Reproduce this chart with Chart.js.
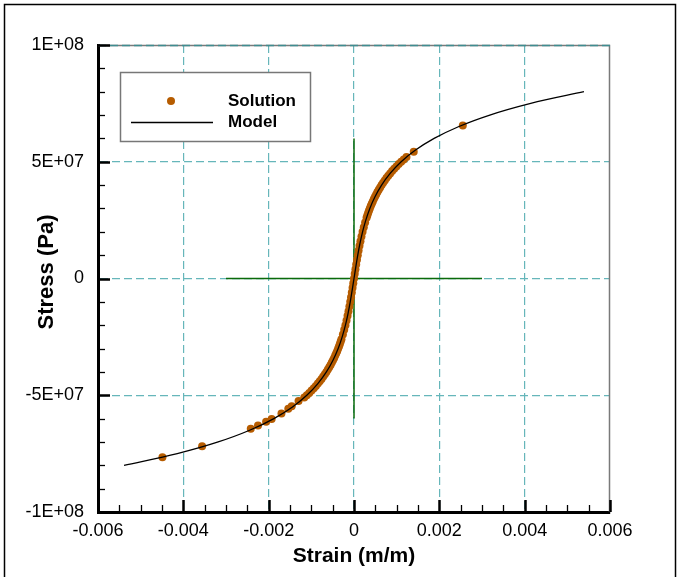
<!DOCTYPE html>
<html>
<head>
<meta charset="utf-8">
<title>Stress - Strain</title>
<script src="https://cdn.jsdelivr.net/npm/chart.js@4.4.1/dist/chart.umd.min.js"></script>
<style>
    body { margin: 0; background: #fff; }
    canvas { display: block; }
</style>
</head>
<body>
<canvas id="miGrafica" width="680" height="577"></canvas>
<script>
// Curva del modelo (deformación vs esfuerzo)
const modelStrain = [
    -0.005390, -0.004142, -0.003183, -0.002446, -0.001878, -0.001442, -0.001106, -0.000847,
    -0.000647, -0.000492, -0.000371, -0.000277, -0.000201, -0.000140, -0.0000882, -0.0000426,
    0,
    0.0000426, 0.0000882, 0.000140, 0.000201, 0.000277, 0.000371, 0.000492, 0.000647,
    0.000847, 0.001106, 0.001442, 0.001878, 0.002446, 0.003183, 0.004142, 0.005390
];
const modelStress = [
    -8.0e7, -7.5e7, -7.0e7, -6.5e7, -6.0e7, -5.5e7, -5.0e7, -4.5e7,
    -4.0e7, -3.5e7, -3.0e7, -2.5e7, -2.0e7, -1.5e7, -1.0e7, -0.5e7,
    0,
    0.5e7, 1.0e7, 1.5e7, 2.0e7, 2.5e7, 3.0e7, 3.5e7, 4.0e7,
    4.5e7, 5.0e7, 5.5e7, 6.0e7, 6.5e7, 7.0e7, 7.5e7, 8.0e7
];

// Puntos de la solución
const solutionStrain = [
    -0.00449, -0.00356, -0.00242, -0.00225, -0.00206, -0.00193, -0.00170, -0.00154, -0.00146, -0.00130,
    -0.001166, -0.001106, -0.0010486, -0.0009942, -0.0009425, -0.0008935, -0.000847, -0.0008027, -0.0007607,
    -0.0007209, -0.000683, -0.000647, -0.0006128, -0.0005803, -0.0005494, -0.0005201, -0.000492, -0.0004655,
    -0.0004403, -0.0004162, -0.0003933, -0.000371, -0.0003507, -0.0003309, -0.000312, -0.000294,
    -0.0002603, -0.0002295, -0.000201, -0.0001753, -0.0001512, -0.0001289, -0.0001079,
    -0.0000882, -0.0000694, -0.0000514, -0.0000339, -0.0000169, 0,
    0.0000169, 0.0000339, 0.0000514, 0.0000694, 0.0000882, 0.0001079, 0.0001289, 0.0001512, 0.0001753, 0.000201,
    0.0002295, 0.0002603, 0.000294, 0.000312, 0.0003309, 0.0003507, 0.000371, 0.0003933, 0.0004162, 0.0004403,
    0.0004655, 0.000492, 0.0005201, 0.0005494, 0.0005803, 0.0006128, 0.000647, 0.000683, 0.0007209, 0.0007607,
    0.0008027, 0.000847, 0.0008935, 0.0009425, 0.0009942, 0.0010486, 0.001106, 0.0011662, 0.00123,
    0.00140, 0.00255
];
const solutionStress = [
    -7.65e7, -7.18e7, -6.44e7, -6.30e7, -6.14e7, -6.02e7, -5.78e7, -5.58e7, -5.47e7, -5.25e7,
    -5.1e7, -5.0e7, -4.9e7, -4.8e7, -4.7e7, -4.6e7, -4.5e7, -4.4e7, -4.3e7,
    -4.2e7, -4.1e7, -4.0e7, -3.9e7, -3.8e7, -3.7e7, -3.6e7, -3.5e7, -3.4e7,
    -3.3e7, -3.2e7, -3.1e7, -3.0e7, -2.9e7, -2.8e7, -2.7e7, -2.6e7,
    -2.4e7, -2.2e7, -2.0e7, -1.8e7, -1.6e7, -1.4e7, -1.2e7,
    -1.0e7, -0.8e7, -0.6e7, -0.4e7, -0.2e7, 0,
    0.2e7, 0.4e7, 0.6e7, 0.8e7, 1.0e7, 1.2e7, 1.4e7, 1.6e7, 1.8e7, 2.0e7,
    2.2e7, 2.4e7, 2.6e7, 2.7e7, 2.8e7, 2.9e7, 3.0e7, 3.1e7, 3.2e7, 3.3e7,
    3.4e7, 3.5e7, 3.6e7, 3.7e7, 3.8e7, 3.9e7, 4.0e7, 4.1e7, 4.2e7, 4.3e7,
    4.4e7, 4.5e7, 4.6e7, 4.7e7, 4.8e7, 4.9e7, 5.0e7, 5.1e7, 5.2e7,
    5.43e7, 6.55e7
];

// Ejes de referencia en verde
const greenVertStrain = [0, 0];
const greenVertStress = [-6e7, 6e7];
const greenHorzStrain = [-0.003, 0.003];
const greenHorzStress = [0, 0];

// Etiquetas de los ejes
const xTickLabels = ['-0.006', '-0.004', '-0.002', '0', '0.002', '0.004', '0.006'];
const yTickLabels = ['-1E+08', '-5E+07', '0', '5E+07', '1E+08'];
const yTitle = 'Stress (Pa)';

const FONT = "'Liberation Sans', Arial, Helvetica, sans-serif";
const GRID = '#66b6ba';
const ORANGE = '#b65c00';

const toPoints = (xs, ys) => xs.map((v, i) => ({ x: v, y: ys[i] }));

// Marco, ticks hacia adentro, título del eje y, leyenda
const decoraciones = {
    id: 'decoraciones',
    beforeDatasetsDraw(chart) {
        const { ctx, chartArea: a } = chart;
        ctx.save();
        // marco exterior
        ctx.strokeStyle = '#000';
        ctx.lineWidth = 1.5;
        ctx.strokeRect(4.5, 4.5, 671, 620);
        // borde superior y derecho
        ctx.strokeStyle = '#7a7a7a';
        ctx.lineWidth = 1.5;
        ctx.beginPath();
        ctx.moveTo(a.left, a.top + 0.5);
        ctx.lineTo(a.right - 0.5, a.top + 0.5);
        ctx.lineTo(a.right - 0.5, a.bottom);
        ctx.stroke();
        ctx.strokeStyle = '#3f8d90';
        ctx.setLineDash([8, 4]);
        ctx.beginPath();
        ctx.moveTo(a.left, a.top + 0.5);
        ctx.lineTo(a.right, a.top + 0.5);
        ctx.stroke();
        ctx.restore();
    },
    afterDraw(chart) {
        const { ctx, chartArea: a, scales: { x, y } } = chart;
        ctx.save();
        ctx.strokeStyle = '#000';
        // ticks del eje x (menores cada 0.0005)
        for (let i = 0; i <= 24; i++) {
            const px = Math.round(x.getPixelForValue(-0.006 + i * 0.0005)) + 0.5;
            const major = i % 4 === 0;
            ctx.lineWidth = major ? 2.5 : 1.3;
            ctx.beginPath();
            ctx.moveTo(px, a.bottom);
            ctx.lineTo(px, a.bottom - (major ? 12 : 7));
            ctx.stroke();
        }
        // ticks del eje y (menores cada 1E+07)
        for (let i = 0; i <= 20; i++) {
            const py = Math.round(y.getPixelForValue(-1e8 + i * 1e7)) + 0.5;
            const major = i % 5 === 0;
            ctx.lineWidth = major ? 2.5 : 1.3;
            ctx.beginPath();
            ctx.moveTo(a.left, py);
            ctx.lineTo(a.left + (major ? 12 : 7), py);
            ctx.stroke();
        }

        // título del eje y
        ctx.save();
        ctx.translate(47, 272);
        ctx.rotate(-Math.PI / 2);
        ctx.fillStyle = '#000';
        ctx.font = 'bold 22px ' + FONT;
        ctx.textAlign = 'center';
        ctx.textBaseline = 'middle';
        ctx.fillText(yTitle, 0, 0);
        ctx.restore();

        // leyenda
        const lx = 120.5, ly = 72.5, lw = 190, lh = 69;
        ctx.fillStyle = '#fff';
        ctx.fillRect(lx, ly, lw, lh);
        ctx.strokeStyle = '#777';
        ctx.lineWidth = 1.5;
        ctx.strokeRect(lx, ly, lw, lh);

        const solucion = chart.data.datasets[1];
        const modelo = chart.data.datasets[0];
        ctx.fillStyle = solucion.backgroundColor;
        ctx.beginPath();
        ctx.arc(171, 101, solucion.pointRadius, 0, Math.PI * 2);
        ctx.fill();
        ctx.strokeStyle = modelo.borderColor;
        ctx.lineWidth = modelo.borderWidth;
        ctx.beginPath();
        ctx.moveTo(131, 122.5);
        ctx.lineTo(213, 122.5);
        ctx.stroke();

        ctx.fillStyle = '#000';
        ctx.font = 'bold 17px ' + FONT;
        ctx.textAlign = 'left';
        ctx.textBaseline = 'middle';
        ctx.fillText(solucion.label, 228, 101);
        ctx.fillText(modelo.label, 228, 122);
        ctx.restore();
    }
};

const ctx = document.getElementById('miGrafica').getContext('2d');

window.myChart = new Chart(ctx, {
    type: 'scatter',
    data: {
        datasets: [
            {
                label: 'Model',
                data: toPoints(modelStrain, modelStress),
                showLine: true,
                borderColor: '#000',
                borderWidth: 1.3,
                pointRadius: 0,
                cubicInterpolationMode: 'monotone',
                order: 0
            },
            {
                label: 'Solution',
                data: toPoints(solutionStrain, solutionStress),
                backgroundColor: ORANGE,
                borderWidth: 0,
                pointRadius: 4,
                order: 1
            },
            {
                label: 'eje vertical',
                data: toPoints(greenVertStrain, greenVertStress),
                showLine: true,
                borderColor: '#0a6a0a',
                borderWidth: 1.5,
                pointRadius: 0,
                order: 2
            },
            {
                label: 'eje horizontal',
                data: toPoints(greenHorzStrain, greenHorzStress),
                showLine: true,
                borderColor: '#0a6a0a',
                borderWidth: 1.5,
                pointRadius: 0,
                order: 2
            }
        ]
    },
    options: {
        responsive: false,
        animation: false,
        layout: { padding: { left: 0, top: 45, right: 70, bottom: 0 } },
        plugins: {
            legend: { display: false },
            tooltip: { enabled: false }
        },
        scales: {
            x: {
                type: 'linear',
                min: -0.006,
                max: 0.006,
                afterFit: (scale) => { scale.height = 65; },
                ticks: {
                    stepSize: 0.002,
                    padding: 8,
                    color: '#000',
                    font: { family: FONT, size: 18 },
                    callback: (value, index) => xTickLabels[index]
                },
                grid: {
                    drawTicks: false,
                    lineWidth: 1.2,
                    color: (c) => (c.index === 0 || c.index === xTickLabels.length - 1) ? 'rgba(0,0,0,0)' : GRID
                },
                border: { color: '#000', width: 3, dash: [8, 4] },
                title: {
                    display: true,
                    text: 'Strain (m/m)',
                    color: '#000',
                    font: { family: FONT, size: 21, weight: 'bold' },
                    padding: { top: 0, bottom: 8 }
                }
            },
            y: {
                type: 'linear',
                min: -1e8,
                max: 1e8,
                afterFit: (scale) => { scale.width = 98; },
                ticks: {
                    stepSize: 5e7,
                    padding: 14,
                    color: '#000',
                    font: { family: FONT, size: 18 },
                    callback: (value, index) => yTickLabels[index]
                },
                grid: {
                    drawTicks: false,
                    lineWidth: 1.2,
                    color: (c) => (c.index === 0 || c.index === yTickLabels.length - 1) ? 'rgba(0,0,0,0)' : GRID
                },
                border: { color: '#000', width: 3, dash: [8, 4] }
            }
        }
    },
    plugins: [decoraciones]
});
</script>
</body>
</html>
